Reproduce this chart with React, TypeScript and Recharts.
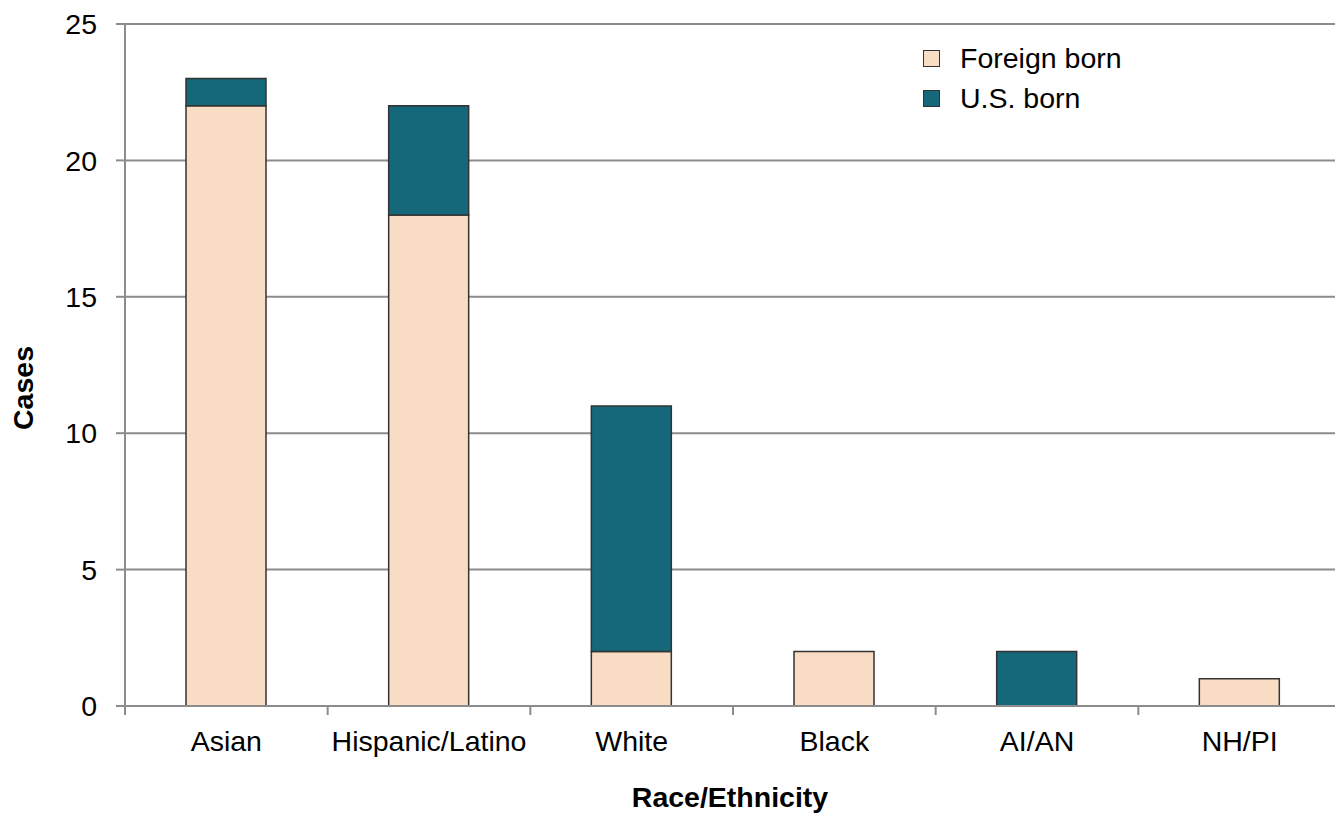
import React from 'react';
import { BarChart, Bar, XAxis, YAxis, CartesianGrid, Legend } from 'recharts';

const categories = ['Asian', 'Hispanic/Latino', 'White', 'Black', 'AI/AN', 'NH/PI'];
const foreignBorn = [22, 18, 2, 2, 0, 1];
const usBorn = [1, 4, 9, 0, 2, 0];
const yTicks = [0, 5, 10, 15, 20, 25];

const data = categories.map((c, i) => ({ name: c, foreign: foreignBorn[i], us: usBorn[i] }));

const CHART_W = 1341;
const CHART_H = 816;
const Y_AXIS_W = 125;
const BAND = (CHART_W - Y_AXIS_W) / categories.length;
const FONT = 'Liberation Sans, Arial, Helvetica, sans-serif';
const GRAY = '#8c8c8c';
const FS = 28.5;

const XTick = (props: any) => {
  const { x, y, payload, index } = props;
  const axisY = y - 9;
  return (
    <g>
      <line x1={x - BAND / 2} x2={x - BAND / 2} y1={axisY} y2={axisY + 9} stroke={GRAY} strokeWidth={2} />
      {index === categories.length - 1 && (
        <line x1={x + BAND / 2} x2={x + BAND / 2} y1={axisY} y2={axisY + 9} stroke={GRAY} strokeWidth={2} />
      )}
      <text x={x} y={axisY + 45} textAnchor="middle" fill="#000" fontSize={FS} fontFamily={FONT}>
        {payload.value}
      </text>
    </g>
  );
};

const LegendContent = (props: any) => {
  const { payload } = props;
  return (
    <div style={{ fontFamily: FONT, fontSize: FS, color: '#000' }}>
      {(payload || []).map((p: any, i: number) => (
        <div key={i} style={{ display: 'flex', alignItems: 'center', height: 40 }}>
          <span
            style={{
              display: 'inline-block',
              width: 15,
              height: 15,
              background: p.color,
              border: '1.5px solid #333',
              marginRight: 20,
            }}
          />
          <span>{p.value}</span>
        </div>
      ))}
    </div>
  );
};

const YLabel = () => (
  <text
    x={33}
    y={388}
    transform="rotate(-90 33 388)"
    textAnchor="middle"
    fontSize={FS}
    fontWeight="bold"
    fontFamily={FONT}
    fill="#000"
  >
    Cases
  </text>
);

const XLabel = () => (
  <text x={730} y={807} textAnchor="middle" fontSize={FS} fontWeight="bold" fontFamily={FONT} fill="#000">
    Race/Ethnicity
  </text>
);

export default function App() {
  return (
    <div
      style={{
        position: 'absolute',
        left: 0,
        top: 0,
        width: 1335,
        height: 816,
        overflow: 'hidden',
        background: '#fff',
      }}
    >
      <BarChart
        width={CHART_W}
        height={CHART_H}
        data={data}
        margin={{ top: 24, right: 0, bottom: 0, left: 0 }}
        barCategoryGap={0}
      >
        <CartesianGrid vertical={false} stroke={GRAY} strokeWidth={2} />
        <XAxis
          dataKey="name"
          height={110}
          tickLine={false}
          tickSize={9}
          tickMargin={0}
          axisLine={{ stroke: GRAY, strokeWidth: 2 }}
          tick={<XTick />}
          interval={0}
          label={<XLabel />}
        />
        <YAxis
          type="number"
          domain={[0, 25]}
          ticks={yTicks}
          width={Y_AXIS_W}
          tickSize={9}
          tickMargin={19}
          axisLine={{ stroke: GRAY, strokeWidth: 2 }}
          tickLine={{ stroke: GRAY, strokeWidth: 2 }}
          tick={{ fill: '#000', fontSize: FS, fontFamily: FONT }}
          label={<YLabel />}
        />
        <Legend
          layout="horizontal"
          verticalAlign="middle"
          align="center"
          content={<LegendContent />}
          wrapperStyle={{ position: 'absolute', left: 923, top: 38, width: 'auto' }}
        />
        <Bar dataKey="foreign" name="Foreign born" stackId="a" fill="#F8DCC3" stroke="#333" strokeWidth={1.5} barSize={80} isAnimationActive={false} />
        <Bar dataKey="us" name="U.S. born" stackId="a" fill="#15687A" stroke="#333" strokeWidth={1.5} barSize={80} isAnimationActive={false} />
      </BarChart>
    </div>
  );
}
